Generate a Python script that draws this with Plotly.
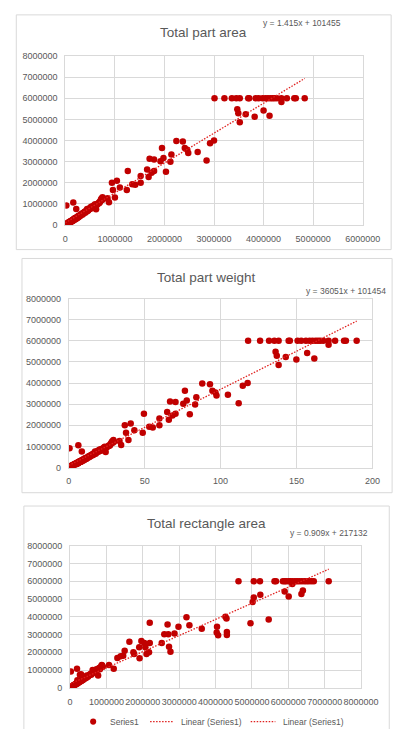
import plotly.graph_objects as go

# ---------------- data ----------------
# Chart 1 / 2 share the same measured value per part (y)
part_area = [
    5000, 10000, 20000, 30000, 40000, 50000, 60000, 70000, 80000, 90000,
    100000, 110000, 120000, 130000, 140000, 150000, 160000, 170000, 180000, 190000,
    200000, 210000, 220000, 230000, 240000, 250000, 260000, 270000, 280000, 300000,
    310000, 320000, 330000, 350000, 360000, 370000, 380000, 400000, 410000, 420000,
    430000, 440000, 450000, 470000, 480000, 500000, 510000, 520000, 540000, 550000,
    570000, 580000, 600000, 610000, 620000, 630000, 650000, 670000, 680000, 700000,
    710000, 720000, 730000, 750000, 760000,
    15000, 25000, 35000, 45000, 55000, 65000, 75000, 85000, 95000, 105000,
    115000, 125000, 135000, 145000, 155000, 165000, 175000, 185000, 195000, 205000,
    215000, 225000, 235000, 245000, 255000, 265000, 290000, 340000, 390000, 460000,
    530000, 590000, 640000, 690000, 740000,
    20000, 160000, 220000, 850000, 880000, 940000, 960000, 1000000, 1040000, 1100000,
    1240000, 1260000, 1350000, 1410000, 1520000, 1520000, 1650000, 1680000, 1740000, 1790000,
    1700000, 1790000, 1920000, 1950000, 1980000, 2030000, 2120000, 2140000, 2240000, 2370000,
    2410000, 2460000, 2480000, 2670000, 2850000, 2920000, 3000000, 3470000, 3490000, 3520000,
    3640000, 3820000, 4000000, 4120000, 4360000,
    3010000, 3210000, 3360000, 3450000, 3520000, 3690000, 3710000, 3840000, 3900000, 3980000,
    4040000, 4090000, 4140000, 4180000, 4220000, 4270000, 4360000, 4470000, 4620000, 4650000,
    4830000,
]

part_weight = [
    0.2, 0.4, 0.8, 1.2, 1.6, 2.0, 2.4, 2.7, 3.1, 3.5,
    3.9, 4.3, 4.7, 5.1, 5.5, 5.9, 6.3, 6.7, 7.1, 7.5,
    7.9, 8.2, 8.6, 9.0, 9.4, 9.8, 10.2, 10.6, 11.0, 11.8,
    12.2, 12.6, 13.0, 13.7, 14.1, 14.5, 14.9, 15.7, 16.1, 16.5,
    16.9, 17.3, 17.7, 18.4, 18.8, 19.6, 20.0, 20.4, 21.2, 21.6,
    22.4, 22.8, 23.6, 23.9, 24.3, 24.7, 25.5, 26.3, 26.7, 27.5,
    27.9, 28.3, 28.7, 29.4, 29.8,
    0.6, 1.0, 1.4, 1.8, 2.2, 2.6, 2.9, 3.3, 3.7, 4.1,
    4.5, 4.9, 5.3, 5.7, 6.1, 6.5, 6.9, 7.3, 7.7, 8.0,
    8.4, 8.8, 9.2, 9.6, 10.0, 10.4, 11.4, 13.3, 15.3, 18.1,
    20.8, 23.2, 25.1, 27.1, 29.0,
    0.5, 6.3, 8.6, 33.4, 34.5, 36.9, 37.7, 39.3, 40.8, 43.2,
    48.7, 49.5, 53.0, 55.3, 59.7, 59.7, 64.8, 65.9, 68.3, 70.3,
    66.7, 70.3, 75.4, 76.5, 77.7, 79.7, 83.2, 84.0, 87.9, 93.0,
    94.6, 96.6, 97.3, 104.8, 111.9, 114.6, 117.8, 136.2, 137.0, 138.2,
    142.9, 149.9, 157.0, 161.7, 171.1,
    118.1, 126.0, 131.9, 135.4, 138.2, 144.8, 145.6, 150.7, 153.1, 156.2,
    158.6, 160.5, 162.5, 164.1, 165.6, 167.6, 171.1, 175.4, 181.3, 182.5,
    189.6,
]

part_value = [
    20000, 50000, 30000, 70000, 60000, 100000, 80000, 120000, 140000, 110000,
    170000, 150000, 200000, 180000, 220000, 250000, 210000, 270000, 300000, 260000,
    320000, 290000, 350000, 330000, 380000, 360000, 420000, 400000, 450000, 430000,
    490000, 470000, 520000, 500000, 570000, 550000, 600000, 580000, 650000, 620000,
    700000, 760000, 660000, 720000, 780000, 750000, 830000, 860000, 800000, 880000,
    850000, 930000, 980000, 900000, 740000, 950000, 1000000, 1020000, 1060000, 1100000,
    1150000, 1200000, 1250000, 1310000, 1220000,
    10000, 45000, 40000, 85000, 70000, 95000, 100000, 130000, 150000, 140000,
    180000, 160000, 200000, 190000, 230000, 240000, 250000, 280000, 300000, 270000,
    330000, 310000, 360000, 340000, 390000, 370000, 410000, 540000, 620000, 700000,
    820000, 880000, 970000, 1050000, 1180000,
    920000, 1060000, 760000, 1260000, 1070000, 2000000, 1650000, 1300000, 2090000, 1770000,
    1650000, 2550000, 1930000, 1900000, 2000000, 2320000, 2630000, 2270000, 2470000, 2550000,
    3130000, 3100000, 3020000, 3640000, 3170000, 2520000, 2990000, 3330000, 3980000, 3950000,
    3640000, 3560000, 3410000, 3450000, 3050000, 3870000, 4000000, 5480000, 5290000, 4860000,
    5240000, 5120000, 5420000, 5170000, 5820000,
    6000000, 6000000, 6000000, 6000000, 6000000, 6000000, 6000000, 6000000, 6000000, 6000000,
    6000000, 6000000, 6000000, 6000000, 6000000, 6000000, 6000000, 6000000, 6000000, 6000000,
    6000000,
]

# Chart 3: bounding-rectangle area against the same value
rect_area = [
    5000, 10000, 20000, 30000, 40000, 50000, 60000, 70000, 80000, 90000,
    100000, 110000, 120000, 130000, 140000, 150000, 160000, 170000, 180000, 190000,
    200000, 210000, 220000, 230000, 240000, 250000, 260000, 270000, 280000, 290000,
    300000, 310000, 320000, 330000, 340000, 350000, 360000, 370000, 380000, 400000,
    410000, 420000, 440000, 450000, 460000, 480000, 490000, 500000, 520000, 540000,
    550000, 570000, 580000, 600000, 610000, 620000, 640000, 650000, 660000, 680000,
    700000, 710000, 720000, 740000, 760000, 780000, 800000, 820000, 840000, 860000,
    880000, 900000, 270000, 200000, 350000, 460000, 620000,
    20000, 190000, 300000, 770000, 870000, 1070000, 1200000, 1300000, 1390000, 1460000,
    1500000, 1630000, 1740000, 1760000, 1900000, 1910000, 1960000, 2040000, 2070000, 2100000,
    2190000, 2190000, 2170000, 2520000, 2590000, 2680000, 2700000, 2720000, 2760000, 2870000,
    2980000, 3200000, 3280000, 3620000, 4040000, 4030000, 4070000, 4270000, 4300000, 4310000,
    4310000, 4960000, 5460000, 5020000, 5050000, 5230000, 5900000, 6010000, 6360000, 6400000,
    6110000,
    4630000, 5050000, 5220000, 5620000, 5660000, 5850000, 5900000, 5940000, 6010000, 6050000,
    6110000, 6180000, 6240000, 6300000, 6370000, 6440000, 6500000, 6560000, 6630000, 6700000,
    7110000,
]

rect_value = [
    20000, 50000, 30000, 60000, 70000, 90000, 80000, 110000, 130000, 100000,
    150000, 140000, 170000, 190000, 160000, 220000, 200000, 240000, 260000, 230000,
    280000, 300000, 270000, 320000, 340000, 310000, 360000, 380000, 350000, 400000,
    420000, 390000, 440000, 460000, 430000, 480000, 500000, 470000, 530000, 550000,
    520000, 580000, 600000, 570000, 630000, 650000, 620000, 680000, 700000, 730000,
    760000, 780000, 740000, 820000, 800000, 860000, 900000, 850000, 940000, 980000,
    960000, 1010000, 1030000, 1000000, 1050000, 1080000, 1120000, 1050000, 1160000, 1220000,
    1250000, 1180000, 730000, 420000, 590000, 700000, 1000000,
    920000, 1070000, 760000, 700000, 1290000, 1290000, 1070000, 1680000, 1780000, 1810000,
    2090000, 2590000, 2000000, 1900000, 2280000, 1670000, 2640000, 2520000, 2280000, 1910000,
    3670000, 2520000, 2000000, 2520000, 3020000, 3570000, 3020000, 2310000, 2030000, 3060000,
    3440000, 3980000, 3520000, 3330000, 3440000, 3110000, 2960000, 4000000, 3900000, 3140000,
    2980000, 3630000, 3850000, 4830000, 5090000, 5240000, 5420000, 5150000, 5290000, 5480000,
    5850000,
    6000000, 6000000, 6000000, 6000000, 6000000, 6000000, 6000000, 6000000, 6000000, 6000000,
    6000000, 6000000, 6000000, 6000000, 6000000, 6000000, 6000000, 6000000, 6000000, 6000000,
    6000000,
]

# Linear trendline coefficients (slope, intercept) shown on each chart
area_fit = (1.415, 101455)
weight_fit = (36051, 101454)
rect_fit = (0.909, 217132)

titles = ["Total part area", "Total part weight", "Total rectangle area"]
legend_labels = ["Series1", "Linear (Series1)", "Linear (Series1)"]

# ---------------- styling ----------------
W, H = 412, 729
FONT = "Liberation Sans, Arial, sans-serif"
GREY_TXT = "#595959"
GRID = "#D9D9D9"
MARK = "#C00000"
TREND = "#E0201E"
TREND_DASH = "1.5px,1.5px"


def px(x):
    return x / W


def py(y):
    return 1 - y / H


fig = go.Figure()

panels = [
    dict(x=part_area, y=part_value, fit=area_fit, xr=[0, 6000000], xd=1000000,
         xdom=(65.7, 379.0), ydom=(51.7, 223.0), box=(14, 10, 409, 248),
         title=(211, 28), eq=(358, 18)),
    dict(x=part_weight, y=part_value, fit=weight_fit, xr=[0, 200], xd=50,
         xdom=(69.3, 389.3), ydom=(297.7, 469.0), box=(20, 257, 410, 494.5),
         title=(214, 276), eq=(406, 290)),
    dict(x=rect_area, y=rect_value, fit=rect_fit, xr=[0, 8000000], xd=1000000,
         xdom=(70.7, 377.3), ydom=(548.3, 692.3), box=(22, 508, 407, 740),
         title=(214, 526), eq=(387, 535.7)),
]

shapes = []
annotations = []

for i, p in enumerate(panels, start=1):
    xa = "x" if i == 1 else f"x{i}"
    ya = "y" if i == 1 else f"y{i}"
    fig.add_trace(go.Scatter(
        x=p["x"], y=p["y"], mode="markers", xaxis=xa, yaxis=ya,
        marker=dict(color=MARK, size=6.5, line=dict(width=0)),
        showlegend=False, hoverinfo="skip"))
    slope, icpt = p["fit"]
    x_end = max(p["x"])
    fig.add_trace(go.Scatter(
        x=[0, x_end], y=[icpt, slope * x_end + icpt], mode="lines",
        xaxis=xa, yaxis=ya, line=dict(color=TREND, width=1.3, dash=TREND_DASH),
        showlegend=False, hoverinfo="skip"))

    axis_common = dict(
        showgrid=True, gridcolor=GRID, gridwidth=1, zeroline=False,
        showline=True, linecolor=GRID, linewidth=1, mirror=True,
        ticks="outside", ticklen=5, tickcolor="rgba(0,0,0,0)", tickangle=0,
        tickfont=dict(family=FONT, size=9, color=GREY_TXT),
        tickformat="d", fixedrange=True)
    xkey = "xaxis" if i == 1 else f"xaxis{i}"
    ykey = "yaxis" if i == 1 else f"yaxis{i}"
    fig.update_layout(**{
        xkey: dict(axis_common, range=p["xr"], dtick=p["xd"], tick0=0,
                   domain=[px(p["xdom"][0]), px(p["xdom"][1])], anchor=ya),
        ykey: dict(axis_common, range=[0, 8000000], dtick=1000000, tick0=0,
                   domain=[py(p["ydom"][1]), py(p["ydom"][0])], anchor=xa),
    })

    bx0, by0, bx1, by1 = p["box"]
    shapes.append(dict(type="rect", xref="paper", yref="paper",
                       x0=px(bx0), x1=px(bx1), y0=py(by1), y1=py(by0),
                       line=dict(color=GRID, width=1), fillcolor="rgba(0,0,0,0)"))
    annotations.append(dict(text=titles[i - 1], xref="paper", yref="paper",
                            x=px(p["title"][0]), y=py(p["title"][1]),
                            xanchor="center", yanchor="middle", showarrow=False,
                            font=dict(family=FONT, size=13.5, color=GREY_TXT)))
    annotations.append(dict(text=f"y = {slope}x + {icpt}", xref="paper", yref="paper",
                            x=px(p["eq"][0]), y=py(p["eq"][1]),
                            xanchor="right", yanchor="middle", showarrow=False,
                            font=dict(family=FONT, size=8.5, color=GREY_TXT)))

# legend row under the last chart
LEG_Y = 726.5
shapes.append(dict(type="circle", xref="paper", yref="paper",
                   x0=px(91.8), x1=px(98.2), y0=py(LEG_Y + 3.2), y1=py(LEG_Y - 3.2),
                   fillcolor=MARK, line=dict(width=0)))
for lx0, lx1 in [(155, 180), (261, 287)]:
    shapes.append(dict(type="line", xref="paper", yref="paper",
                       x0=px(lx0), x1=px(lx1), y0=py(LEG_Y), y1=py(LEG_Y),
                       line=dict(color=TREND, width=1.3, dash=TREND_DASH)))
for lx, label in zip([111, 185, 293], legend_labels):
    annotations.append(dict(text=label, xref="paper", yref="paper",
                            x=px(lx), y=py(LEG_Y), xanchor="left", yanchor="middle",
                            showarrow=False,
                            font=dict(family=FONT, size=8.5, color=GREY_TXT)))

fig.update_layout(
    width=W, height=H, autosize=False,
    margin=dict(l=0, r=0, t=0, b=0),
    paper_bgcolor="white", plot_bgcolor="white",
    showlegend=False, shapes=shapes, annotations=annotations,
)

fig.write_html("out.html", include_plotlyjs=True, config={"displayModeBar": False})
